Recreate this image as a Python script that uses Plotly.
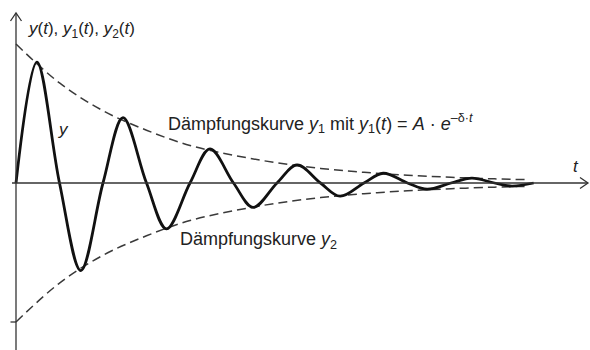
import plotly.graph_objects as go

# --- data (t in half-periods, y relative to amplitude A) ---
t_curve = [0, 0.48, 1.0, 1.49, 2.0, 2.46, 3.0, 3.46, 4.0, 4.46, 5.0, 5.45, 6.0,
           6.46, 7.0, 7.45, 8.0, 8.44, 9.0, 9.45, 10.0, 10.48, 11.0, 11.4, 11.9]
y_curve = [0, 0.87, 0, -0.63, 0, 0.47, 0, -0.33, 0, 0.245, 0, -0.175, 0,
           0.13, 0, -0.095, 0, 0.07, 0, -0.045, 0, 0.035, 0, -0.022, 0]

t_env = [0, 1, 2, 3, 4, 5, 6, 7, 8, 9, 10, 11, 11.75]
y1_env = [1.0, 0.72, 0.52, 0.38, 0.27, 0.20, 0.145, 0.105, 0.077, 0.056, 0.041, 0.030, 0.024]
y2_env = [-1.0, -0.72, -0.52, -0.38, -0.27, -0.20, -0.145, -0.105, -0.077, -0.056, -0.041, -0.030, -0.024]

W, H = 590, 350
X0PX, Y0PX = 16, 183      # origin in pixels
XU, YU = 43.5, 139        # pixels per unit

def px(x):
    return x / W

def py(y):
    return 1 - y / H

FONT = "Liberation Sans, Arial, sans-serif"
TXT = "#222222"

fig = go.Figure()

dash_style = dict(color="#3a3a3a", width=1.5, dash="9px,5px")
fig.add_trace(go.Scatter(x=t_env, y=y1_env, mode="lines", line=dash_style,
                         line_shape="spline", hoverinfo="skip"))
fig.add_trace(go.Scatter(x=t_env, y=y2_env, mode="lines", line=dash_style,
                         line_shape="spline", hoverinfo="skip"))
fig.add_trace(go.Scatter(x=t_curve, y=y_curve, mode="lines",
                         line=dict(color="#111111", width=2.8, shape="spline", smoothing=1.0),
                         hoverinfo="skip"))

axis_col = "#333333"
shapes = [
    # x-axis
    dict(type="line", xref="paper", yref="y", x0=px(12), x1=px(588), y0=0, y1=0,
         line=dict(color=axis_col, width=1.3)),
    # y-axis
    dict(type="line", xref="x", yref="paper", x0=0, x1=0, y0=0, y1=py(13),
         line=dict(color=axis_col, width=1.3)),
    # arrow heads
    dict(type="path", xref="paper", yref="paper",
         path=f"M{px(10.5)},{py(21)} L{px(16)},{py(13)} L{px(21.5)},{py(21)}",
         line=dict(color=axis_col, width=1.3)),
    dict(type="path", xref="paper", yref="paper",
         path=f"M{px(580)},{py(177.5)} L{px(588)},{py(183)} L{px(580)},{py(188.5)}",
         line=dict(color=axis_col, width=1.3)),
    # tick at -A
    dict(type="line", xref="paper", yref="y", x0=px(10.5), x1=px(16), y0=-1, y1=-1,
         line=dict(color=axis_col, width=1.3)),
]

ann = [
    dict(text="<i>y</i>(<i>t</i>), <i>y</i><sub>1</sub>(<i>t</i>), <i>y</i><sub>2</sub>(<i>t</i>)",
         x=px(26), y=py(30), xanchor="left", yanchor="middle", size=17),
    dict(text="<i>y</i>", x=px(63), y=py(129), xanchor="center", yanchor="middle", size=17),
    dict(text="Dämpfungskurve <i>y</i><sub>1</sub> mit <i>y</i><sub>1</sub>(<i>t</i>) = <i>A</i> · <i>e</i><sup>–δ·<i>t</i></sup>",
         x=px(166), y=py(123), xanchor="left", yanchor="middle", size=18),
    dict(text="Dämpfungskurve <i>y</i><sub>2</sub>",
         x=px(178), y=py(240), xanchor="left", yanchor="middle", size=18),
    dict(text="<i>t</i>", x=px(576), y=py(167), xanchor="center", yanchor="middle", size=17),
]
annotations = []
for a in ann:
    size = a.pop("size")
    a.update(xref="paper", yref="paper", showarrow=False,
             font=dict(family=FONT, size=size, color=TXT))
    annotations.append(a)

fig.update_layout(
    width=W, height=H, autosize=False,
    margin=dict(l=0, r=0, t=0, b=0, pad=0),
    paper_bgcolor="white", plot_bgcolor="white",
    showlegend=False,
    xaxis=dict(range=[-X0PX / XU, (W - X0PX) / XU], visible=False, fixedrange=True),
    yaxis=dict(range=[-(H - Y0PX) / YU, Y0PX / YU], visible=False, fixedrange=True),
    shapes=shapes,
    annotations=annotations,
)

fig.write_html("out.html", config={"displayModeBar": False})
